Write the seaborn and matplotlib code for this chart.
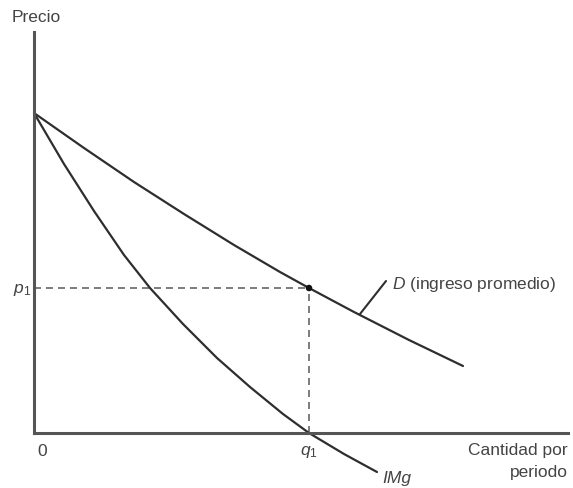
import matplotlib
matplotlib.use("Agg")
import matplotlib.pyplot as plt
import seaborn as sns
import pandas as pd

# ---- data (units = quantity / price) ----
demand_q = [0, 50, 100, 150, 200, 246, 275, 320, 375, 429]
demand_p = [320, 285, 251, 219, 188, 161, 145, 121, 93, 67]
img_q = [0, 30, 60, 90, 116, 149, 183, 216, 249, 275, 310, 343]
img_p = [320, 269, 222, 178, 145, 109, 75, 46, 19, 0, -21, -39]
q1 = 275
p1 = 145

sns.set_theme(style="white")
plt.rcParams["font.family"] = ["Liberation Sans", "DejaVu Sans"]
plt.rcParams["mathtext.fontset"] = "custom"
plt.rcParams["mathtext.rm"] = "Liberation Sans"
plt.rcParams["mathtext.it"] = "Liberation Sans:italic"

W, H = 573, 488
fig = plt.figure(figsize=(W / 100, H / 100), dpi=100)
ax = fig.add_axes([34 / W, (H - 433) / H, (568 - 34) / W, (433 - 32) / H])
ax.set_xlim(0, 534)
ax.set_ylim(0, 401)

for s in ["top", "right"]:
    ax.spines[s].set_visible(False)
for s in ["left", "bottom"]:
    ax.spines[s].set_color("#555555")
    ax.spines[s].set_linewidth(2.2)
ax.set_xticks([])
ax.set_yticks([])
ax.set_xlabel("")
ax.set_ylabel("")

line_col = "#2e2e2e"
dd = pd.DataFrame({"q": demand_q, "p": demand_p})
mr = pd.DataFrame({"q": img_q, "p": img_p})
sns.lineplot(data=dd, x="q", y="p", ax=ax, sort=False, estimator=None,
             color=line_col, lw=1.6, clip_on=False)
sns.lineplot(data=mr, x="q", y="p", ax=ax, sort=False, estimator=None,
             color=line_col, lw=1.6, clip_on=False)

# dashed guides
ax.plot([0, q1], [p1, p1], color="#666666", lw=1.2, dashes=(4.2, 3.0), zorder=1)
ax.plot([q1, q1], [0, p1], color="#666666", lw=1.2, dashes=(4.2, 3.0), zorder=1)
sns.scatterplot(x=[q1], y=[p1], ax=ax, color="#111111", s=22, zorder=5,
                edgecolor="none")

txt = "#444444"
fs = 12.5
ax.text(-22, 415, "Precio", color=txt, fontsize=fs, ha="left", va="center")
ax.text(-3, p1 - 2, r"$p_1$", color=txt, fontsize=fs, ha="right", va="center")
ax.text(8, -19, "0", color=txt, fontsize=fs, ha="center", va="center")
ax.text(q1, -19, r"$q_1$", color=txt, fontsize=fs, ha="center", va="center")
ax.text(348, -46, "IMg", color=txt, fontsize=fs, style="italic",
        ha="left", va="center")
ax.text(534, -18, "Cantidad por", color=txt, fontsize=fs, ha="right", va="center")
ax.text(534, -40, "periodo", color=txt, fontsize=fs, ha="right", va="center")
ax.text(358, 148, r"$D$ (ingreso promedio)", color=txt, fontsize=fs,
        ha="left", va="center")
ax.annotate("", xy=(326, 119), xytext=(352, 152),
            arrowprops=dict(arrowstyle="-", lw=1.5, color=line_col,
                            shrinkA=0, shrinkB=0), annotation_clip=False)

fig.savefig("out.png", dpi=100)
